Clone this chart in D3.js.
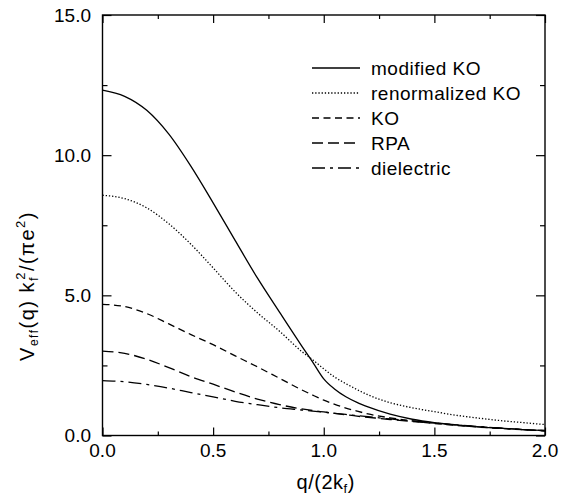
<!DOCTYPE html>
<html>
<head>
<meta charset="utf-8">
<script src="https://cdn.jsdelivr.net/npm/d3@7"></script>
<style>
  html, body { margin: 0; padding: 0; background: #fff; }
  svg { display: block; }
  text { font-family: "Liberation Sans", Arial, Helvetica, sans-serif; fill: #000; }
</style>
</head>
<body>
<svg id="chart" width="569" height="496"></svg>
<script>
// ---- data ----
const qValues = [0, 0.1, 0.2, 0.3, 0.4, 0.5, 0.6, 0.7, 0.8, 0.9, 0.95, 1.0, 1.05, 1.1, 1.15, 1.2, 1.3, 1.4, 1.5, 1.6, 1.7, 1.8, 1.9, 2.0];
const modifiedKO     = [12.32, 12.1, 11.6, 10.75, 9.6, 8.3, 6.95, 5.62, 4.4, 3.2, 2.62, 2.02, 1.65, 1.38, 1.18, 1.02, 0.76, 0.58, 0.46, 0.38, 0.31, 0.26, 0.21, 0.18];
const renormalizedKO = [8.57, 8.45, 8.12, 7.55, 6.82, 5.98, 5.12, 4.38, 3.72, 3.0, 2.7, 2.38, 2.08, 1.85, 1.64, 1.45, 1.17, 0.99, 0.85, 0.72, 0.62, 0.53, 0.46, 0.39];
const KO             = [4.68, 4.6, 4.35, 3.98, 3.6, 3.24, 2.84, 2.45, 2.04, 1.63, 1.44, 1.26, 1.11, 0.98, 0.87, 0.77, 0.63, 0.52, 0.43, 0.36, 0.3, 0.25, 0.21, 0.17];
const RPA            = [3.01, 2.93, 2.72, 2.42, 2.1, 1.83, 1.55, 1.3, 1.1, 0.95, 0.89, 0.84, 0.79, 0.74, 0.69, 0.65, 0.57, 0.5, 0.44, 0.37, 0.31, 0.26, 0.21, 0.17];
const dielectric     = [1.96, 1.92, 1.82, 1.69, 1.53, 1.38, 1.22, 1.1, 0.99, 0.91, 0.87, 0.83, 0.79, 0.75, 0.71, 0.67, 0.59, 0.52, 0.45, 0.38, 0.32, 0.26, 0.21, 0.17];
const seriesNames = ["modified KO", "renormalized KO", "KO", "RPA", "dielectric"];
const seriesDash  = ["none", "1.3,1.9", "7,4.5", "11,5", "13,5,3,5"];
const xTicks = [0, 0.5, 1.0, 1.5, 2.0];
const xMinor = [0.25, 0.75, 1.25, 1.75];
const yTicks = [0, 5, 10, 15];
const yMinor = [2.5, 7.5, 12.5];

const seriesValues = [modifiedKO, renormalizedKO, KO, RPA, dielectric];

// ---- layout ----
const svg = d3.select("#chart");
const L = 102.5, R = 545, T = 15, B = 435.5;
const x = d3.scaleLinear().domain([0, 2]).range([L, R]);
const y = d3.scaleLinear().domain([0, 15]).range([B, T]);

// frame
svg.append("rect").attr("x", L).attr("y", T).attr("width", R - L).attr("height", B - T)
  .attr("fill", "none").attr("stroke", "#000").attr("stroke-width", 1.4);

// ticks via axes (inward)
const g = svg.append("g");
function styleAxis(sel) {
  sel.select(".domain").remove();
  sel.selectAll("line").attr("stroke", "#000").attr("stroke-width", 1.2);
}
g.append("g").attr("transform", `translate(0,${B})`)
  .call(d3.axisBottom(x).tickValues(xTicks).tickSize(-8).tickFormat(""))
  .call(styleAxis);
g.append("g").attr("transform", `translate(0,${B})`)
  .call(d3.axisBottom(x).tickValues(xMinor).tickSize(-4).tickFormat(""))
  .call(styleAxis);
g.append("g").attr("transform", `translate(0,${T})`)
  .call(d3.axisTop(x).tickValues(xTicks).tickSize(-8).tickFormat(""))
  .call(styleAxis);
g.append("g").attr("transform", `translate(0,${T})`)
  .call(d3.axisTop(x).tickValues(xMinor).tickSize(-4).tickFormat(""))
  .call(styleAxis);
g.append("g").attr("transform", `translate(${L},0)`)
  .call(d3.axisLeft(y).tickValues(yTicks).tickSize(-9).tickFormat(""))
  .call(styleAxis);
g.append("g").attr("transform", `translate(${L},0)`)
  .call(d3.axisLeft(y).tickValues(yMinor).tickSize(-5).tickFormat(""))
  .call(styleAxis);
g.append("g").attr("transform", `translate(${R},0)`)
  .call(d3.axisRight(y).tickValues(yTicks).tickSize(-9).tickFormat(""))
  .call(styleAxis);
g.append("g").attr("transform", `translate(${R},0)`)
  .call(d3.axisRight(y).tickValues(yMinor).tickSize(-5).tickFormat(""))
  .call(styleAxis);

// tick labels
const fs = 19;
svg.append("g").selectAll("text").data(xTicks).join("text")
  .attr("x", d => x(d)).attr("y", 457)
  .attr("text-anchor", "middle").attr("font-size", fs)
  .text(d => d.toFixed(1));
svg.append("g").selectAll("text").data(yTicks).join("text")
  .attr("x", 91).attr("y", d => y(d)).attr("dy", "0.36em")
  .attr("text-anchor", "end").attr("font-size", fs)
  .text(d => d.toFixed(1));

// axis titles
const xl = svg.append("text").attr("x", (L + R) / 2 + 2).attr("y", 489)
  .attr("text-anchor", "middle").attr("font-size", 20).attr("letter-spacing", 0.5);
xl.append("tspan").text("q/(2k");
xl.append("tspan").attr("font-size", 13).attr("dy", 4).text("f");
xl.append("tspan").attr("dy", -4).text(")");

const yl = svg.append("text").attr("transform", "translate(34,286) rotate(-90)")
  .attr("text-anchor", "middle").attr("font-size", 20).attr("letter-spacing", 1.5);
yl.append("tspan").text("V");
yl.append("tspan").attr("font-size", 12).attr("dy", 4).text("eff");
yl.append("tspan").attr("dy", -4).text("(q) k");
yl.append("tspan").attr("font-size", 13).attr("dy", 4).text("f");
yl.append("tspan").attr("font-size", 13).attr("dx", -4).attr("dy", -13).text("2");
yl.append("tspan").attr("dy", 9).text("/(\u03C0e");
yl.append("tspan").attr("font-size", 13).attr("dy", -9).text("2");
yl.append("tspan").attr("dy", 9).text(")");

// curves
const line = d3.line().x((d, i) => x(qValues[i])).y(d => y(d)).curve(d3.curveMonotoneX);
svg.append("g").selectAll("path").data(seriesValues).join("path")
  .attr("d", d => line(d))
  .attr("fill", "none").attr("stroke", "#000").attr("stroke-width", 1.3)
  .attr("stroke-dasharray", (d, i) => seriesDash[i]);

// legend
const lg = svg.append("g");
seriesNames.forEach((name, i) => {
  const yy = 68 + i * 25;
  lg.append("line").attr("x1", 312).attr("x2", 360).attr("y1", yy).attr("y2", yy)
    .attr("stroke", "#000").attr("stroke-width", 1.3)
    .attr("stroke-dasharray", seriesDash[i]);
  lg.append("text").attr("x", 371).attr("y", yy).attr("dy", "0.36em")
    .attr("font-size", fs).attr("letter-spacing", 0.5).text(name);
});
</script>
</body>
</html>
